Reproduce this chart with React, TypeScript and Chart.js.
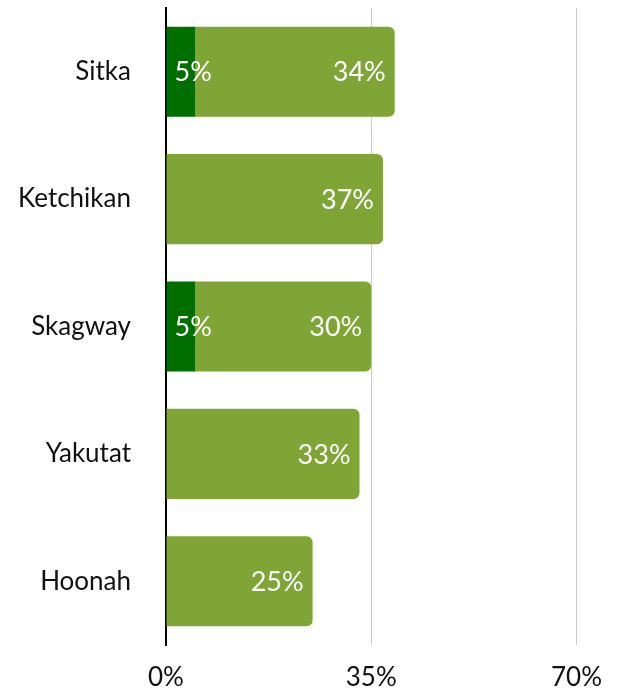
import React, { useEffect, useRef } from "react";
import { Chart, registerables } from "chart.js";

Chart.register(...registerables);

const categories = ["Sitka", "Ketchikan", "Skagway", "Yakutat", "Hoonah"];
const darkValues = [5, 0, 5, 0, 0];
const lightValues = [34, 37, 30, 33, 25];
const xTicks = [0, 35, 70];

const FONT = "Lato, 'Open Sans', sans-serif";

const labelPlugin = {
  id: "barLabels",
  afterDatasetsDraw(chart: any) {
    const ctx = chart.ctx;
    ctx.save();
    ctx.fillStyle = "#ffffff";
    ctx.font = `27px ${FONT}`;
    ctx.textBaseline = "middle";
    chart.data.datasets.forEach((ds: any, di: number) => {
      const meta = chart.getDatasetMeta(di);
      meta.data.forEach((bar: any, i: number) => {
        const v = ds.data[i];
        if (!v) return;
        const props = bar.getProps(["x", "y", "base"], true);
        const text = `${v}%`;
        if (di === 0) {
          ctx.textAlign = "left";
          ctx.fillText(text, props.base + 8, props.y + 1);
        } else {
          ctx.textAlign = "right";
          ctx.fillText(text, props.x - 9, props.y + 1);
        }
      });
    });
    ctx.restore();
  },
};

export default function App() {
  const ref = useRef<HTMLCanvasElement>(null);
  useEffect(() => {
    document.body.style.margin = "0";
    const chart = new Chart(ref.current!, {
      type: "bar",
      data: {
        labels: categories,
        datasets: [
          {
            data: darkValues,
            backgroundColor: "#006f00",
            borderRadius: 0,
            borderSkipped: false,
          },
          {
            data: lightValues,
            backgroundColor: "#7ea536",
            borderRadius: { topRight: 6, bottomRight: 6, topLeft: 0, bottomLeft: 0 },
            borderSkipped: false,
          },
        ],
      },
      options: {
        indexAxis: "y",
        animation: false,
        responsive: true,
        maintainAspectRatio: false,
        layout: { padding: { top: 8, right: 42, bottom: 0, left: 0 } },
        datasets: { bar: { barPercentage: 0.707, categoryPercentage: 1 } },
        plugins: { legend: { display: false }, tooltip: { enabled: false } },
        scales: {
          x: {
            stacked: true,
            min: 0,
            max: 70,
            afterBuildTicks: (axis: any) => {
              axis.ticks = xTicks.map((v) => ({ value: v }));
            },
            ticks: {
              callback: (v: any) => `${v}%`,
              color: "#111",
              font: { family: FONT, size: 26 },
              padding: 17,
              maxRotation: 0,
            },
            grid: { color: "#cccccc", lineWidth: 1, drawTicks: false },
            afterFit: (axis: any) => {
              axis.height = 49;
            },
            border: { display: false },
          },
          y: {
            stacked: true,
            afterFit: (axis: any) => {
              axis.width = 166;
              axis.paddingTop = 0;
              axis.paddingBottom = 0;
            },
            ticks: {
              color: "#111",
              font: { family: FONT, size: 26 },
              padding: 0,
            },
            grid: {
              display: true,
              drawOnChartArea: false,
              drawTicks: true,
              tickLength: 35,
              tickColor: "rgba(0,0,0,0)",
            },
            border: { display: true, color: "#000000", width: 2 },
          },
        },
      },
      plugins: [labelPlugin],
    });
    return () => chart.destroy();
  }, []);
  return (
    <div style={{ width: 619, height: 694, position: "relative" }}>
      <canvas ref={ref} />
    </div>
  );
}
